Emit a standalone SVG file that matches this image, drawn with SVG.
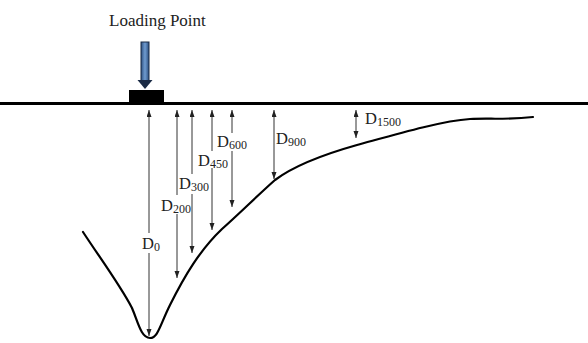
<svg xmlns="http://www.w3.org/2000/svg" width="588" height="343" viewBox="0 0 588 343">
<style>
text, tspan{font-family:"Liberation Serif","Times New Roman",serif;fill:#222}
.lbl{font-size:16.5px}
.sub{font-size:12px;fill:#222}
.dim{fill:none;stroke:#333;stroke-width:1;marker-start:url(#ah);marker-end:url(#ah)}
</style>
<defs>
<marker id="ah" markerUnits="userSpaceOnUse" markerWidth="7" markerHeight="6" refX="7" refY="2.5" orient="auto-start-reverse">
<path d="M0,0 L7,2.5 L0,5 z" fill="#222"/>
</marker>
<linearGradient id="blue" x1="0" y1="0" x2="1" y2="0">
<stop offset="0" stop-color="#2d4f80"/>
<stop offset="0.5" stop-color="#6f9bd0"/>
<stop offset="1" stop-color="#2d4f80"/>
</linearGradient>
</defs>
<rect width="588" height="343" fill="#fff"/>
<g id="ground">
<line x1="0" y1="103.5" x2="588" y2="103.5" stroke="#000" stroke-width="3"/>
</g>
<g id="loading-point">
<text x="109" y="26" font-family="'Liberation Serif','Times New Roman',serif" font-size="17" fill="#222">Loading Point</text>
<rect x="141" y="42" width="8" height="39" fill="url(#blue)" stroke="#1a2a45" stroke-width="1"/>
<path d="M137.5,80 L152.5,80 L145,89 z" fill="#1a2a45"/>
<rect x="129" y="90" width="35" height="13" fill="#000"/>
</g>
<g id="deflection-basin">
<path d="M83,232 C100,258 120,285 132,308 C138,322 141,338 150,338 C158,338 160,325 170,305 C185,275 200,250 222,229 C240,213 258,195 275,180 C295,165 325,154 357,145 C390,136 440,121 470,119 C490,118 505,120 533,117" fill="none" stroke="#000" stroke-width="2.2" stroke-linecap="round" stroke-linejoin="round"/>
</g>
<g id="connectors">
<path class="dim" d="M149,110 V233 M149,253 V336"/>
<path class="dim" d="M177,110 V195 M177,214 V278"/>
<path class="dim" d="M192,110 V174 M192,194 V253"/>
<path class="dim" d="M212,110 V151 M212,168 V230"/>
<path class="dim" d="M232,110 V133 M232,151 V207"/>
<path class="dim" d="M274,110 V179"/>
<path class="dim" d="M356,110 V138"/>
</g>
<g id="label-D0"><text class="lbl" x="142" y="249">D<tspan class="sub" dy="2" fill="#222">0</tspan></text></g>
<g id="label-D200"><text class="lbl" x="161" y="211">D<tspan class="sub" dy="2" fill="#222">200</tspan></text></g>
<g id="label-D300"><text class="lbl" x="179" y="189">D<tspan class="sub" dy="2" fill="#222">300</tspan></text></g>
<g id="label-D450"><text class="lbl" x="198" y="166">D<tspan class="sub" dy="2" fill="#222">450</tspan></text></g>
<g id="label-D600"><text class="lbl" x="217" y="147">D<tspan class="sub" dy="2" fill="#222">600</tspan></text></g>
<g id="label-D900"><text class="lbl" x="276" y="144">D<tspan class="sub" dy="2" fill="#222">900</tspan></text></g>
<g id="label-D1500"><text class="lbl" x="365" y="124">D<tspan class="sub" dy="2" fill="#222">1500</tspan></text></g>
</svg>
